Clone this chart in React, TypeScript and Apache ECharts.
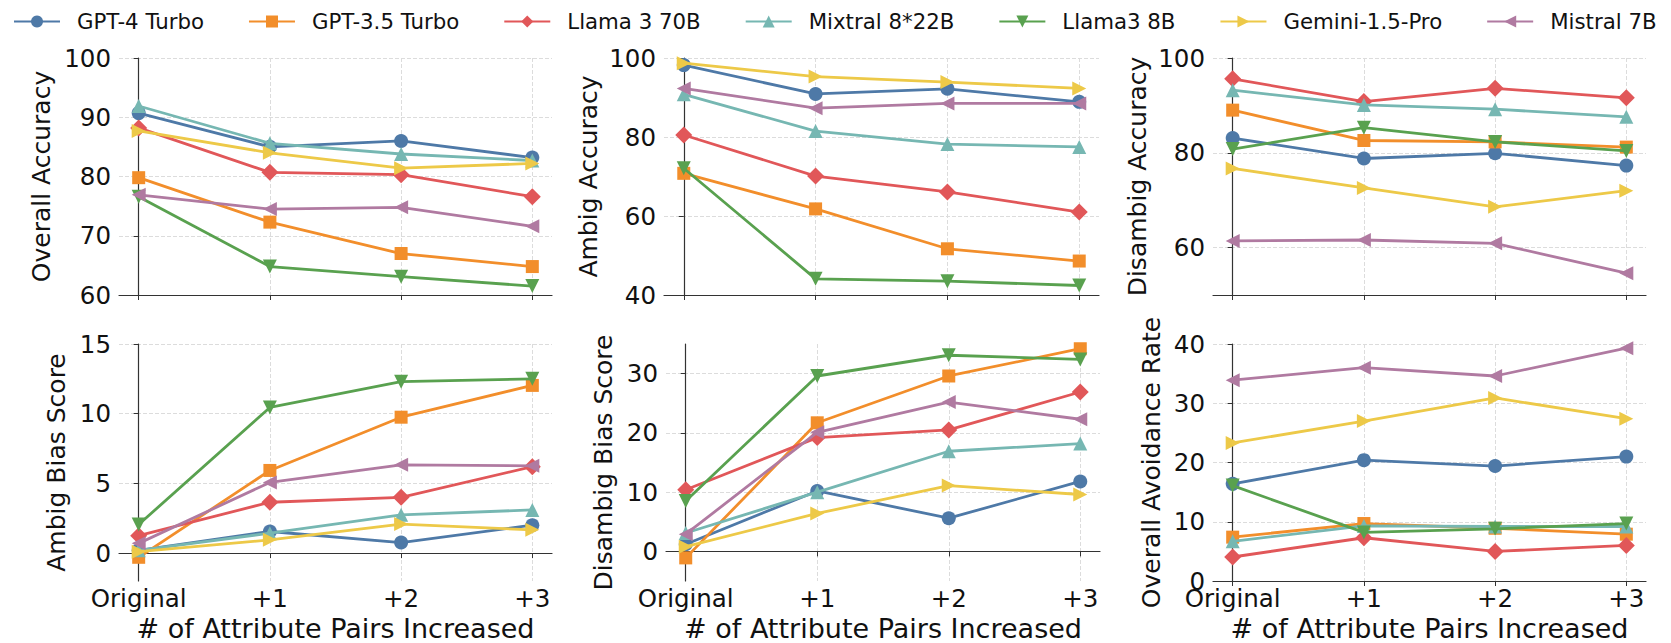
import React, { useEffect, useRef } from 'react';
import * as echarts from 'echarts';

const categories = ['Original', '+1', '+2', '+3'];
const models = ['GPT-4 Turbo', 'GPT-3.5 Turbo', 'Llama 3 70B', 'Mixtral 8*22B', 'Llama3 8B', 'Gemini-1.5-Pro', 'Mistral 7B'];

// rows follow the order of `models`
const overallAccuracy = [
  [90.7, 85.0, 86.0, 83.2],
  [79.8, 72.3, 67.0, 64.8],
  [88.2, 80.7, 80.3, 76.6],
  [91.9, 85.6, 83.8, 82.7],
  [76.6, 64.8, 63.1, 61.5],
  [87.7, 84.0, 81.4, 82.2],
  [76.9, 74.5, 74.8, 71.6],
];
const ambigAccuracy = [
  [98.2, 90.9, 92.2, 88.9],
  [70.8, 61.8, 51.7, 48.6],
  [80.5, 70.1, 66.1, 61.0],
  [90.8, 81.5, 78.2, 77.5],
  [72.1, 44.1, 43.5, 42.4],
  [98.7, 95.3, 93.9, 92.3],
  [92.3, 87.3, 88.5, 88.5],
];
const disambigAccuracy = [
  [83.1, 78.8, 79.9, 77.3],
  [89.0, 82.6, 82.3, 81.2],
  [95.6, 90.8, 93.6, 91.6],
  [93.2, 90.1, 89.2, 87.6],
  [80.8, 85.3, 82.3, 80.4],
  [76.7, 72.6, 68.6, 72.0],
  [61.4, 61.6, 60.9, 54.6],
];
const ambigBiasScore = [
  [0.2, 1.55, 0.76, 2.0],
  [-0.3, 5.93, 9.75, 12.03],
  [1.25, 3.65, 4.0, 6.2],
  [0.2, 1.43, 2.75, 3.1],
  [2.05, 10.45, 12.3, 12.5],
  [0.1, 0.95, 2.08, 1.67],
  [0.7, 5.07, 6.33, 6.26],
];
const disambigBiasScore = [
  [1.2, 10.2, 5.6, 11.8],
  [-1.1, 21.7, 29.6, 34.2],
  [10.4, 19.2, 20.5, 26.9],
  [3.1, 10.0, 16.9, 18.2],
  [8.5, 29.6, 33.1, 32.4],
  [0.8, 6.4, 11.1, 9.6],
  [2.9, 20.1, 25.2, 22.3],
];
const overallAvoidanceRate = [
  [16.4, 20.4, 19.4, 21.0],
  [7.4, 9.7, 8.9, 7.9],
  [4.05, 7.3, 5.0, 6.0],
  [6.7, 9.3, 9.2, 9.2],
  [16.1, 8.2, 8.8, 9.7],
  [23.3, 27.0, 30.9, 27.4],
  [33.9, 36.0, 34.6, 39.3],
];

const overallAccuracyTicks = [60, 70, 80, 90, 100];
const ambigAccuracyTicks = [40, 60, 80, 100];
const disambigAccuracyTicks = [60, 80, 100];
const ambigBiasTicks = [0, 5, 10, 15];
const disambigBiasTicks = [0, 10, 20, 30];
const avoidanceTicks = [0, 10, 20, 30, 40];

const xLabel = '# of Attribute Pairs Increased';

const panels = [
  { name: 'Overall Accuracy', data: overallAccuracy, ticks: overallAccuracyTicks, min: 60, max: 100 },
  { name: 'Ambig Accuracy', data: ambigAccuracy, ticks: ambigAccuracyTicks, min: 40, max: 100 },
  { name: 'Disambig Accuracy', data: disambigAccuracy, ticks: disambigAccuracyTicks, min: 50, max: 100 },
  { name: 'Ambig Bias Score', data: ambigBiasScore, ticks: ambigBiasTicks, min: -2, max: 15 },
  { name: 'Disambig Bias Score', data: disambigBiasScore, ticks: disambigBiasTicks, min: -5, max: 35 },
  { name: 'Overall Avoidance Rate', data: overallAvoidanceRate, ticks: avoidanceTicks, min: 0, max: 40 },
];

// layout (pixels)
const gridBoxes = [
  { left: 119, top: 58, width: 433, height: 237 },
  { left: 664, top: 58, width: 435, height: 237 },
  { left: 1213, top: 58, width: 433, height: 237 },
  { left: 119, top: 344, width: 433, height: 238 },
  { left: 666, top: 344, width: 434, height: 238 },
  { left: 1213, top: 344, width: 433, height: 238 },
];
const yNameGaps = [65, 63, 63, 50, 50, 49];

const colors = ['#4e79a7', '#f28e2b', '#e15759', '#76b7b2', '#59a14f', '#edc948', '#b07aa1'];
const symbols = ['circle', 'rect', 'diamond', 'triangle', 'triangle', 'triangle', 'triangle'];
const symbolRotates = [0, 0, 0, 0, 180, -90, 90];
const symbolSizes = [14, 13, 17, 14, 14, 14, 14];

const FONT = 'DejaVu Sans';
const xTickValues = [0, 1, 2, 3];

export default function App() {
  const ref = useRef<HTMLDivElement>(null);
  useEffect(() => {
    if (!ref.current) return;
    const chart = echarts.init(ref.current, null, { renderer: 'svg' });
    const grids = gridBoxes.map((g) => ({ ...g, containLabel: false }));
    const xAxes = panels.map((p, i) => ({
      type: 'value',
      gridIndex: i,
      min: -0.15,
      max: 3.15,
      name: i >= 3 ? xLabel : '',
      nameLocation: 'middle',
      nameGap: 34,
      nameTextStyle: { fontSize: 27, color: '#111', fontFamily: FONT },
      axisLine: { show: true, lineStyle: { color: '#333', width: 1.2 } },
      axisTick: { show: true, customValues: xTickValues, length: 5, lineStyle: { color: '#333' } },
      axisLabel: {
        show: i >= 3,
        customValues: xTickValues,
        formatter: (v: number) => categories[Math.round(v)] ?? '',
        fontSize: 24.5,
        color: '#111',
        fontFamily: FONT,
        margin: 5,
      },
      splitLine: { show: true, lineStyle: { color: '#dcdcdc', type: 'dashed', width: 1 } },
    }));
    const yAxes = panels.map((p, i) => ({
      type: 'value',
      gridIndex: i,
      min: p.min,
      max: p.max,
      name: p.name,
      nameLocation: 'middle',
      nameGap: yNameGaps[i],
      nameTextStyle: { fontSize: 25, color: '#111', fontFamily: FONT },
      axisLine: { show: true, lineStyle: { color: '#333', width: 1.2 } },
      axisTick: { show: true, customValues: p.ticks, length: 5, lineStyle: { color: '#333' } },
      axisLabel: {
        customValues: p.ticks,
        fontSize: 24.5,
        color: '#111',
        fontFamily: FONT,
        margin: 8,
      },
      splitLine: { show: true, lineStyle: { color: '#dcdcdc', type: 'dashed', width: 1 } },
    }));
    const series: any[] = [];
    panels.forEach((p, pi) => {
      p.data.forEach((vals, mi) => {
        series.push({
          type: 'line',
          name: models[mi],
          xAxisIndex: pi,
          yAxisIndex: pi,
          data: vals.map((v, k) => [k, v]),
          symbol: symbols[mi],
          symbolRotate: symbolRotates[mi],
          symbolSize: symbolSizes[mi],
          showSymbol: true,
          lineStyle: { color: colors[mi], width: 2.8 },
          itemStyle: { color: colors[mi] },
          emphasis: { disabled: true },
          z: 2 + mi,
        });
      });
    });
    chart.setOption({
      animation: false,
      backgroundColor: '#ffffff',
      textStyle: { fontFamily: FONT },
      legend: {
        data: models,
        left: 8,
        top: 6,
        itemWidth: 46,
        itemHeight: 15,
        itemGap: 44,
        textStyle: { fontSize: 21.3, color: '#111', fontFamily: FONT, padding: [0, 0, 0, 12] },
      },
      grid: grids,
      xAxis: xAxes,
      yAxis: yAxes,
      series,
    });
    return () => chart.dispose();
  }, []);
  return (
    <div
      ref={ref}
      style={{ position: 'fixed', left: 0, top: 0, width: 1671, height: 643, background: '#fff' }}
    />
  );
}
